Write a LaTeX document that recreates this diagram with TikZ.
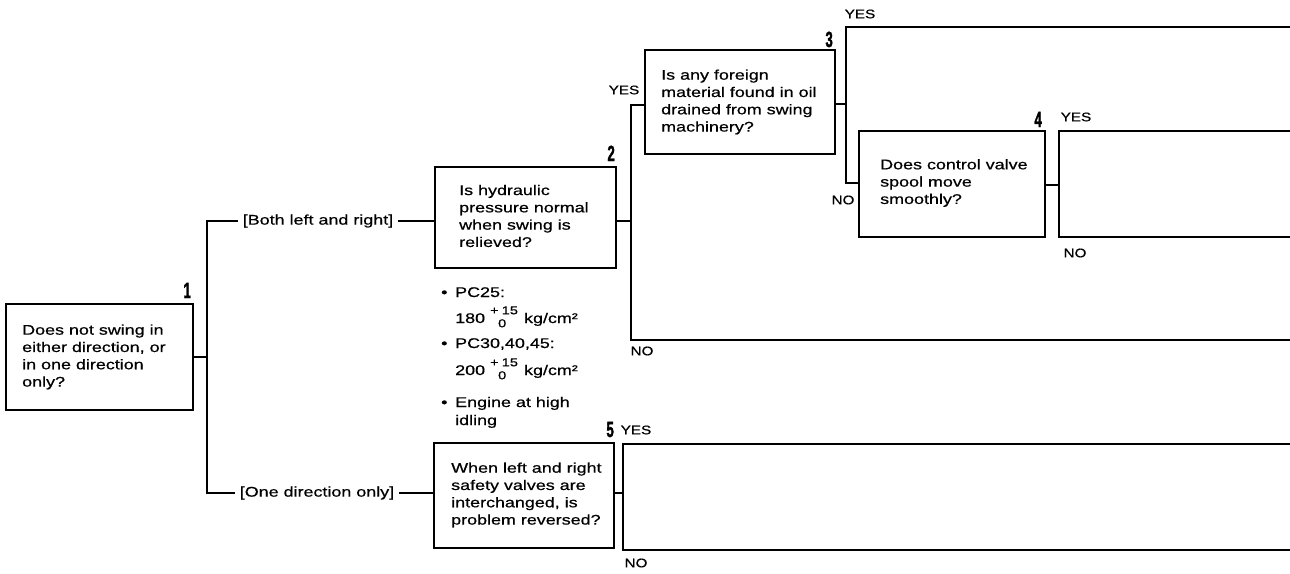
\documentclass[tikz,border=0pt]{standalone}
\usepackage{fontspec}
\newfontfamily\dfont[FakeStretch=1.28,FakeBold=0.6]{Liberation Sans}
\newfontfamily\lfont[FakeStretch=1.22,FakeBold=0.6]{Liberation Sans}
\newfontfamily\nfont[FakeStretch=0.6,FakeBold=1.5]{Liberation Sans Bold}
\newcommand\tolstk[2]{\begin{tabular}[c]{@{}l@{}}\fontsize{11.5}{11.5}\selectfont#1\\[-4pt]\fontsize{11.5}{11.5}\selectfont#2\end{tabular}}
\begin{document}
\begin{tikzpicture}[x=1pt,y=-1pt,
  qbox/.style={draw,line width=2.6pt,inner sep=0pt,minimum width=#1},
  qtext/.style={anchor=west,align=left,inner sep=0pt,font=\dfont\fontsize{14}{17.3}\selectfont},
  btext/.style={anchor=base west,inner sep=0pt,font=\dfont\fontsize{14}{17}\selectfont},
  qnum/.style={anchor=base east,inner sep=0pt,font=\nfont\fontsize{22}{22}\selectfont},
  yn/.style={inner sep=0pt,font=\lfont\fontsize{12.5}{12.5}\selectfont},
  branch/.style={inner xsep=5pt,inner ysep=0pt,font=\dfont\fontsize{14}{17}\selectfont},
  wire/.style={line width=2.4pt,line join=miter}]
\useasboundingbox (0,0) rectangle (1290,573);
% boxes
\node[qbox=187pt,minimum height=106pt] (b1) at (99.5,357) {};
\node[qbox=181pt,minimum height=101pt] (b2) at (525.5,217.5) {};
\node[qbox=190pt,minimum height=104pt] (b3) at (740,102) {};
\node[qbox=186pt,minimum height=106pt] (b4) at (952,184) {};
\node[qbox=180pt,minimum height=105pt] (b5) at (524,495.5) {};
% box texts
\node[qtext] (t1) at (22,357) {Does not swing in\\either direction, or\\in one direction\\only?};
\node[qtext] (t2) at (459,216) {Is hydraulic\\pressure normal\\when swing is\\relieved?};
\node[qtext] (t3) at (661,102) {Is any foreign\\material found in oil\\drained from swing\\machinery?};
\node[qtext] (t4) at (880,183) {Does control valve\\spool move\\smoothly?};
\node[qtext] (t5) at (451,495) {When left and right\\safety valves are\\interchanged, is\\problem reversed?};
% numbers
\node[qnum] (n1) at (191,298) {1};
\node[qnum] (n2) at (615,161) {2};
\node[qnum] (n3) at (833,47) {3};
\node[qnum] (n4) at (1042,127) {4};
\node[qnum] (n5) at (614,437) {5};
% bullet notes
\node[btext] (p1) at (441,297) {\makebox[14pt][l]{•}PC25:};
\node[btext] (p2) at (455,323) {180\hspace{5pt}\raisebox{2pt}{\tolstk{+\hspace{3pt}15}{\hspace{8pt}0}}\hspace{6pt}kg/cm²};
\node[btext] (p3) at (441,348) {\makebox[14pt][l]{•}PC30,40,45:};
\node[btext] (p4) at (455,375) {200\hspace{5pt}\raisebox{2pt}{\tolstk{+\hspace{3pt}15}{\hspace{8pt}0}}\hspace{6pt}kg/cm²};
\node[btext] (p5) at (441,407) {\makebox[14pt][l]{•}Engine at high};
\node[btext] (p6) at (455,425) {idling};
% branch labels
\node[branch] (both) at (318,221) {[Both left and right]};
\node[branch] (one) at (317,493) {[One direction only]};
% junction coordinates
\coordinate (j1t) at (207,221);
\coordinate (j1b) at (207,493);
\coordinate (j2t) at (631,105);
\coordinate (j2b) at (631,340);
\coordinate (j3t) at (846,27);
\coordinate (j3b) at (846,183);
\coordinate (j4t) at (1059,131);
\coordinate (j4b) at (1059,237);
\coordinate (j5t) at (623,444);
\coordinate (j5b) at (623,550);
\coordinate (e2) at (1290,340);
\coordinate (e3) at (1290,27);
\coordinate (e4t) at (1290,131);
\coordinate (e4b) at (1290,237);
\coordinate (e5t) at (1290,444);
\coordinate (e5b) at (1290,550);
% wires from box 1
\draw[wire] (b1.east) -- (b1.east -| j1t);
\draw[wire] (both.west) -- (j1t) -- (j1b) -- (one.west);
\draw[wire] (both.east) -- (both.east -| b2.west);
\draw[wire] (one.east) -- (one.east -| b5.west);
% box 2
\draw[wire] (b2.east |- both.east) -- (both.east -| j2t);
\draw[wire] (j2t -| b3.west) -- (j2t) -- (j2b) -- (e2);
% box 3
\draw[wire] (b3.east |- 0,104) -- (j3t |- 0,104);
\draw[wire] (e3) -- (j3t) -- (j3b) -- (j3b -| b4.west);
% box 4
\draw[wire] (b4.east |- 0,185) -- (j4t |- 0,185);
\draw[wire] (e4t) -- (j4t) -- (j4b) -- (e4b);
% box 5
\draw[wire] (b5.east |- one.east) -- (j5t |- one.east);
\draw[wire] (e5t) -- (j5t) -- (j5b) -- (e5b);
% YES / NO
\node[yn] (y2) at (624,90) {YES};
\node[yn] (no2) at (642,351) {NO};
\node[yn] (y3) at (860,14) {YES};
\node[yn] (no3) at (843,200) {NO};
\node[yn] (y4) at (1076,117) {YES};
\node[yn] (no4) at (1075,253) {NO};
\node[yn] (y5) at (636,430) {YES};
\node[yn] (no5) at (636,563) {NO};
\end{tikzpicture}
\end{document}
